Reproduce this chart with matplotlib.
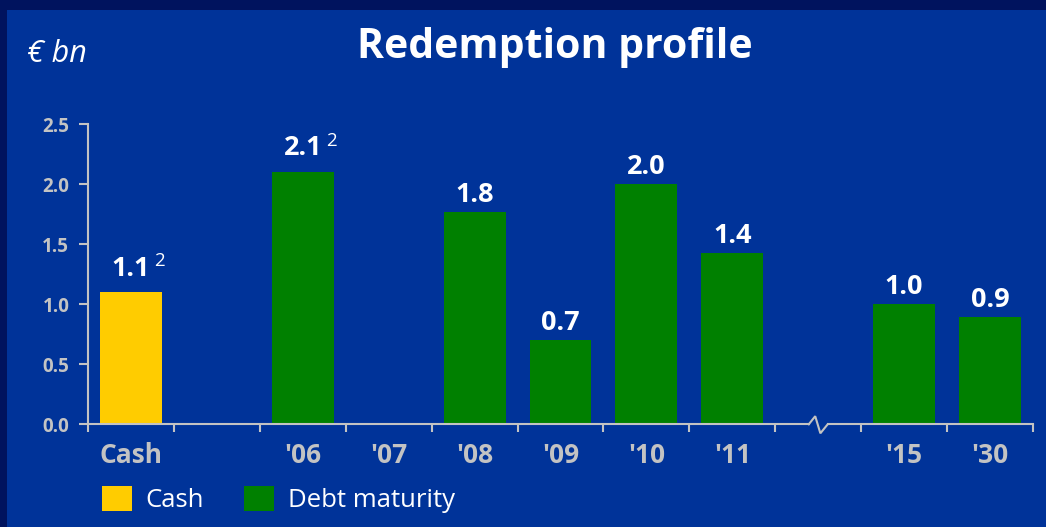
import numpy as np
import matplotlib
matplotlib.use("Agg")
import matplotlib.pyplot as plt
from matplotlib.patches import Rectangle
from matplotlib.ticker import FixedLocator

# ---- data ----
categories = ['Cash', '', "'06", "'07", "'08", "'09", "'10", "'11", '', "'15", "'30"]
cash_labels = ['Cash']
cash_values = [1.1]
cash_notes = ['2']
debt_labels = ["'06", "'07", "'08", "'09", "'10", "'11", "'15", "'30"]
debt_values = [2.1, 0.0, 1.77, 0.70, 2.0, 1.43, 1.0, 0.89]
debt_notes = ['2', '', '', '', '', '', '', '']
break_after = "'11"
yticks = [0.0, 0.5, 1.0, 1.5, 2.0, 2.5]

# ---- style ----
BG = '#003399'
BORDER = '#00135e'
YELLOW = '#ffcc00'
GREEN = '#008000'
GRAY = '#c3c3c3'
WHITE = '#ffffff'
FONT = 'Open Sans'
plt.rcParams['font.family'] = [FONT, 'DejaVu Sans']

W, H = 1046, 527
fig = plt.figure(figsize=(W / 100, H / 100), dpi=100)
fig.patch.set_facecolor(BORDER)
fig.patches.append(Rectangle((7 / W, 0), 1 - 7 / W, (H - 10) / H,
                             transform=fig.transFigure, facecolor=BG,
                             edgecolor='none', zorder=-10))

ax = fig.add_axes([88 / W, (H - 424.3) / H, (1033 - 88) / W, 300.3 / H])
ax.set_facecolor('none')
ax.set_zorder(2)

pos = {c: i for i, c in enumerate(categories) if c}
bw = 0.72
cash_x = [pos[c] for c in cash_labels]
debt_x = [pos[c] for c in debt_labels]
b1 = ax.bar(cash_x, cash_values, width=bw, color=YELLOW, label='Cash', zorder=3)
b2 = ax.bar(debt_x, debt_values, width=bw, color=GREEN, label='Debt maturity', zorder=3)

ax.set_xlim(-0.5, len(categories) - 0.5)
ax.set_ylim(0, 2.5)

# value labels
for xs, vals, notes in ((cash_x, cash_values, cash_notes), (debt_x, debt_values, debt_notes)):
    for x, v, n in zip(xs, vals, notes):
        if v <= 0:
            continue
        off = 12 if n else 7.2
        t = ax.annotate(f"{v:.1f}", xy=(x, v), xytext=(0, off), textcoords='offset points',
                        ha='center', va='baseline', color=WHITE, fontsize=19.5,
                        fontweight='bold', zorder=4)
        if n:
            ax.annotate(n, xy=(1, 1), xycoords=t, xytext=(3, 2.7), textcoords='offset points',
                        ha='left', va='top', color=WHITE, fontsize=13.5, zorder=4)

# axes styling
for s in ('top', 'right', 'bottom'):
    ax.spines[s].set_visible(False)
ax.spines['left'].set_color(GRAY)
ax.spines['left'].set_linewidth(1.5)

ax.set_yticks(yticks)
ax.set_yticklabels([f"{t:.1f}" for t in yticks])
ax.tick_params(axis='y', colors=GRAY, length=6.5, width=1.5, pad=7, labelsize=13.5)
for lab in ax.get_yticklabels():
    lab.set_fontweight('bold')

centers = list(range(len(categories)))
ax.set_xticks(centers)
ax.set_xticklabels(categories)
ax.xaxis.set_minor_locator(FixedLocator(np.arange(-0.5, len(categories), 1.0)))
ax.tick_params(axis='x', which='major', length=0, pad=12.5, labelsize=19, colors=GRAY)
ax.tick_params(axis='x', which='minor', length=5.5, width=1.5, color=GRAY)
for lab in ax.get_xticklabels():
    lab.set_fontweight('bold')

# bottom axis line with break symbol
bx = pos[break_after] + 1
hw = 0.11
xt = ax.get_xaxis_transform()
ax.plot([-0.5, bx - hw], [0, 0], color=GRAY, lw=1.5, transform=xt, clip_on=False, zorder=5)
ax.plot([bx - hw, bx - 0.035, bx + 0.025, bx + hw], [0, 0.027, -0.03, 0], color=GRAY,
        lw=1.5, transform=xt, clip_on=False, zorder=5, solid_joinstyle='miter')
ax.plot([bx + hw, len(categories) - 0.5], [0, 0], color=GRAY, lw=1.5, transform=xt,
        clip_on=False, zorder=5)

# titles
fig.text(555 / W, (H - 57.7) / H, 'Redemption profile', ha='center', va='baseline',
         color=WHITE, fontsize=29.5, fontweight='bold')
fig.text(27 / W, (H - 62) / H, '€ bn', ha='left', va='baseline', color=WHITE,
         fontsize=22, fontstyle='italic')

# legend
leg = fig.legend(handles=[b1, b2], loc='upper left', bbox_to_anchor=(102 / W, (H - 486) / H),
                 ncol=2, frameon=False, fontsize=18.5, handlelength=1.15, handleheight=1.1,
                 handletextpad=0.55, columnspacing=1.55, borderpad=0, borderaxespad=0)
for t in leg.get_texts():
    t.set_color(WHITE)

fig.savefig('out.png', dpi=100, facecolor=fig.get_facecolor())
